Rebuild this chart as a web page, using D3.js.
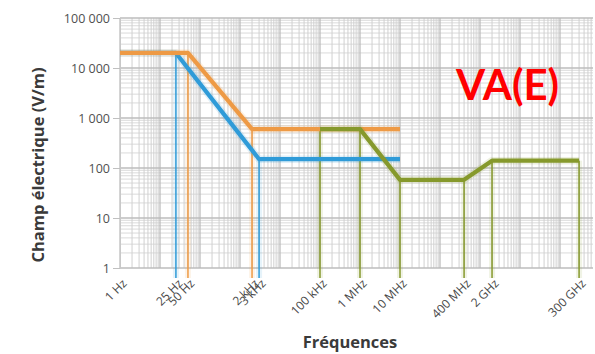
<!DOCTYPE html>
<html>
<head>
<meta charset="utf-8">
<script src="https://cdn.jsdelivr.net/npm/d3@7"></script>
<style>
  html, body { margin: 0; padding: 0; background: #fff; }
  svg { display: block; }
</style>
</head>
<body>
<div id="chart"></div>
<script>
// Valeurs d'action pour le champ électrique (V/m) en fonction de la fréquence
const freqTicks = [1, 25, 50, 2e3, 3e3, 1e5, 1e6, 1e7, 4e8, 2e9, 3e11];
const freqLabels = ["1 Hz", "25 Hz", "50 Hz", "2 kHz", "3 kHz", "100 kHz", "1 MHz", "10 MHz", "400 MHz", "2 GHz", "300 GHz"];
const fieldTicks = [1, 10, 100, 1000, 10000, 100000];

// VA basses (bleu)
const lowFreq = [1, 25, 3e3, 1e7];
const lowE = [20000, 20000, 150, 150];
// VA hautes (orange)
const highFreq = [1, 50, 2e3, 1e7];
const highE = [20000, 20000, 600, 600];
// Hautes fréquences (vert)
const hfFreq = [1e5, 1e6, 1e7, 4e8, 2e9, 3e11];
const hfE = [600, 600, 58, 58, 140, 140];

// Drop lines toward the frequency axis
const lowDrops = [25, 3e3];
const highDrops = [50, 2e3];
const hfDrops = [1e5, 1e6, 1e7, 4e8, 2e9, 3e11];

const W = 595, H = 354;
const margin = { top: 18, right: 2, bottom: 86, left: 120 };
const iw = W - margin.left - margin.right;
const ih = H - margin.top - margin.bottom;

const svg = d3.select("#chart").append("svg")
  .attr("width", W).attr("height", H);

const x = d3.scaleLog().domain([1, Math.pow(10, iw / 40)]).range([0, iw]);
const y = d3.scaleLog().domain([1, 1e5]).range([ih, 0]);

const g = svg.append("g").attr("transform", `translate(${margin.left},${margin.top})`);

// Grid: minor lines 2..9 per decade, major lines on decades
const xMinor = [], xMajor = [];
d3.range(0, 12).forEach(d => {
  const base = Math.pow(10, d);
  xMajor.push(base);
  for (let k = 2; k <= 9; k++) {
    const v = base * k;
    if (v <= x.domain()[1]) xMinor.push(v);
  }
});
const yMinor = [], yMajor = fieldTicks;
d3.range(0, 5).forEach(d => {
  const base = Math.pow(10, d);
  for (let k = 2; k <= 9; k++) yMinor.push(base * k);
});

const grid = g.append("g").attr("class", "grid");
grid.selectAll(".hmin").data(yMinor).join("line")
  .attr("x1", 0).attr("x2", iw)
  .attr("y1", d => y(d)).attr("y2", d => y(d))
  .attr("stroke", "#dadada").attr("stroke-width", 1);
grid.selectAll(".vmin").data(xMinor).join("line")
  .attr("x1", d => x(d)).attr("x2", d => x(d))
  .attr("y1", 0).attr("y2", ih)
  .attr("stroke", "#d0d0d0").attr("stroke-width", 1);
grid.selectAll(".hmaj").data(yMajor).join("line")
  .attr("x1", 0).attr("x2", iw)
  .attr("y1", d => y(d)).attr("y2", d => y(d))
  .attr("stroke", "#bdbdbd").attr("stroke-width", 1.4);
grid.selectAll(".vmaj").data(xMajor).join("line")
  .attr("x1", d => x(d)).attr("x2", d => x(d))
  .attr("y1", 0).attr("y2", ih)
  .attr("stroke", "#b8b8b8").attr("stroke-width", 1.2);

// Y axis
const fr = d3.formatLocale({ decimal: ",", thousands: "\u00a0", grouping: [3], currency: ["", " €"] });
const yAxis = d3.axisLeft(y).tickValues(fieldTicks).tickFormat(fr.format(",d")).tickSize(7).tickPadding(3);
const ya = g.append("g").call(yAxis);
ya.select(".domain").attr("stroke", "#c8c8c8");
ya.selectAll(".tick line").attr("stroke", "#c0c0c0");
ya.selectAll("text").attr("fill", "#505050").style("font-family", "'Open Sans', sans-serif").style("font-size", "12.5px");

const colors = { low: "#2f9bd8", high: "#ee9a45", hf: "#86992c" };

// Vertical drop lines
function drops(freqs, f, e, color) {
  const layer = g.append("g");
  freqs.forEach(fq => {
    const i = f.indexOf(fq);
    const top = y(e[i]);
    layer.append("line")
      .attr("x1", x(fq)).attr("x2", x(fq))
      .attr("y1", top).attr("y2", ih + 10)
      .attr("stroke", color).attr("stroke-opacity", 0.12).attr("stroke-width", 6);
    layer.append("line")
      .attr("x1", x(fq)).attr("x2", x(fq))
      .attr("y1", top).attr("y2", ih + 10)
      .attr("stroke", color).attr("stroke-width", 1.5);
  });
}
drops(lowDrops, lowFreq, lowE, colors.low);
drops(highDrops, highFreq, highE, colors.high);
drops(hfDrops, hfFreq, hfE, colors.hf);

const line = d3.line().x(d => x(d[0])).y(d => y(d[1]));
function series(f, e, color) {
  const pts = f.map((v, i) => [v, e[i]]);
  g.append("path").attr("d", line(pts)).attr("fill", "none")
    .attr("stroke", color).attr("stroke-opacity", 0.15).attr("stroke-width", 7.5)
    .attr("stroke-linejoin", "round");
  g.append("path").attr("d", line(pts)).attr("fill", "none")
    .attr("stroke", color).attr("stroke-width", 4.2)
    .attr("stroke-linejoin", "round");
}
series(lowFreq, lowE, colors.low);
series(highFreq, highE, colors.high);
series(hfFreq, hfE, colors.hf);

// X tick labels (rotated)
const xl = g.append("g");
freqTicks.forEach((fq, i) => {
  xl.append("text")
    .attr("transform", `translate(${x(fq) + 1},${ih + 10}) rotate(-45)`)
    .attr("text-anchor", "end")
    .attr("dy", "0.75em")
    .attr("fill", "#484848")
    .style("font-family", "'Open Sans', sans-serif")
    .style("font-size", "12px")
    .text(freqLabels[i]);
});

// Axis titles
svg.append("text")
  .attr("transform", `translate(44,165) rotate(-90)`)
  .attr("text-anchor", "middle")
  .attr("fill", "#3a3a3a")
  .style("font-family", "'Open Sans', sans-serif")
  .style("font-weight", "bold")
  .style("font-size", "16.5px")
  .text("Champ électrique (V/m)");

svg.append("text")
  .attr("x", 350).attr("y", 348)
  .attr("text-anchor", "middle")
  .attr("fill", "#3a3a3a")
  .style("font-family", "'Open Sans', sans-serif")
  .style("font-weight", "bold")
  .style("font-size", "16.5px")
  .text("Fréquences");

svg.append("text")
  .attr("x", 456).attr("y", 100)
  .attr("fill", "#ff0000")
  .style("font-family", "Lato, sans-serif")
  .style("font-weight", "bold")
  .style("font-size", "42px")
  .text("VA(E)");
</script>
</body>
</html>
